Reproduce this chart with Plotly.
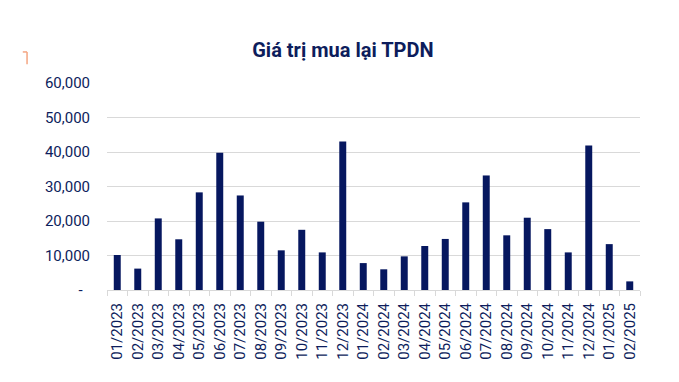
import plotly.graph_objects as go

months = ["01/2023", "02/2023", "03/2023", "04/2023", "05/2023", "06/2023", "07/2023",
          "08/2023", "09/2023", "10/2023", "11/2023", "12/2023", "01/2024", "02/2024",
          "03/2024", "04/2024", "05/2024", "06/2024", "07/2024", "08/2024", "09/2024",
          "10/2024", "11/2024", "12/2024", "01/2025", "02/2025"]
values = [10150, 6200, 20750, 14700, 28300, 39800, 27400, 19800, 11500, 17450, 10900,
          43050, 7800, 6000, 9750, 12750, 14800, 25400, 33200, 15850, 20950, 17650,
          10900, 41900, 13300, 2500]
y_tickvals = [0, 10000, 20000, 30000, 40000, 50000, 60000]
y_ticktext = ["-  ", "10,000", "20,000", "30,000", "40,000", "50,000", "60,000"]
title_text = "Giá trị mua lại TPDN"

NAVY = "#06175f"
GRID = "#d9d9d9"
TXT = "#0d1d5c"

fig = go.Figure()
fig.add_trace(go.Bar(x=months, y=values, marker=dict(color=NAVY, line=dict(width=0))))

fig.update_layout(
    width=679, height=382,
    margin=dict(l=107, r=39, t=83, b=92),
    paper_bgcolor="white", plot_bgcolor="white",
    bargap=0.66,
    showlegend=False,
    font=dict(family="Roboto", color=TXT, size=15),
    title=dict(text="<b>" + title_text + "</b>", x=0.505, xref="container", xanchor="center",
               y=1 - 50 / 382, yref="container", yanchor="middle",
               font=dict(family="Roboto", size=20, color=TXT)),
)
fig.update_yaxes(range=[0, 60000], tickvals=y_tickvals, ticktext=y_ticktext,
                 showgrid=True, gridcolor=GRID, gridwidth=1, zeroline=False,
                 showline=False, ticks="", ticklabelstandoff=16,
                 tickfont=dict(family="Roboto", size=15, color=TXT))
fig.update_xaxes(type="category", tickangle=-90, showline=True, linecolor=GRID, linewidth=1,
                 ticks="outside", tickson="boundaries", ticklen=5, tickcolor=GRID,
                 showgrid=False, tickfont=dict(family="Roboto", size=15, color=TXT),
                 ticklabelstandoff=6)

# small decorative mark in the top-left corner
fig.add_shape(type="line", xref="paper", yref="paper", x0=-0.150, x1=-0.150, y0=1.09, y1=1.15,
              line=dict(color="#f4a582", width=1.5))
fig.add_shape(type="line", xref="paper", yref="paper", x0=-0.158, x1=-0.150, y0=1.15, y1=1.15,
              line=dict(color="#f4a582", width=1.5))

fig.write_html("out.html")
